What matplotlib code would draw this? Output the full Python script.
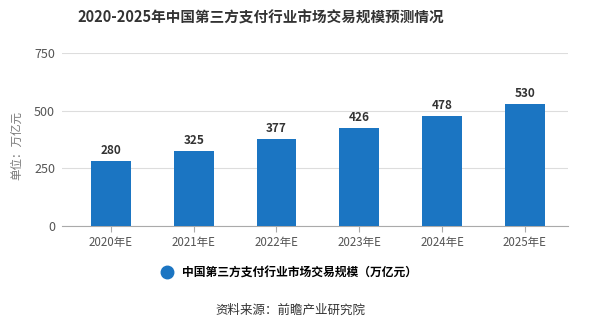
import matplotlib.pyplot as plt
from matplotlib.lines import Line2D

plt.rcParams['font.family'] = ['Noto Sans CJK SC', 'DejaVu Sans']

years = ['2020年E', '2021年E', '2022年E', '2023年E', '2024年E', '2025年E']
scale = [280, 325, 377, 426, 478, 530]
yticks = [0, 250, 500, 750]

bar_color = '#1b75c2'

fig = plt.figure(figsize=(5.98, 3.25), dpi=100)
ax = fig.add_axes([62 / 598, 1 - 226 / 325, (568 - 62) / 598, (226 - 53) / 325])

x = list(range(len(years)))
bars = ax.bar(x, scale, width=0.48, color=bar_color, zorder=3)
for xi, v in zip(x, scale):
    ax.text(xi, v + 18, str(v), ha='center', va='bottom', fontsize=8.5,
            fontweight='bold', color='#333333')

ax.set_xlim(-0.59, 5.52)
ax.set_ylim(0, 750)
ax.set_yticks(yticks)
ax.set_xticks(x)
ax.set_xticklabels(years)
ax.tick_params(axis='y', length=0, pad=5, labelsize=9, labelcolor='#555555')
ax.tick_params(axis='x', length=4, color='#aaaaaa', pad=3, labelsize=8.3,
               labelcolor='#555555')
ax.grid(axis='y', color='#dddddd', linewidth=0.8, zorder=0)
for s in ['top', 'right', 'left']:
    ax.spines[s].set_visible(False)
ax.spines['bottom'].set_color('#aaaaaa')

fig.text(17 / 598, 1 - 145 / 325, '单位：万亿元', rotation=90, ha='center',
         va='center', fontsize=8.3, color='#777777')
fig.text(261 / 598, 1 - 18 / 325, '2020-2025年中国第三方支付行业市场交易规模预测情况',
         ha='center', va='center', fontsize=10.5, fontweight='bold', color='#333333')

handle = Line2D([], [], marker='o', linestyle='none', markersize=9,
                markerfacecolor=bar_color, markeredgecolor=bar_color)
fig.legend([handle], ['中国第三方支付行业市场交易规模（万亿元）'],
           loc='center', bbox_to_anchor=(286 / 598, 1 - 273 / 325), frameon=False,
           handletextpad=0.3, prop={'weight': 'bold', 'size': 8.5})

fig.text(290 / 598, 1 - 310 / 325, '资料来源：前瞻产业研究院', ha='center',
         va='center', fontsize=9, color='#333333')

fig.savefig('out.png', dpi=100)
